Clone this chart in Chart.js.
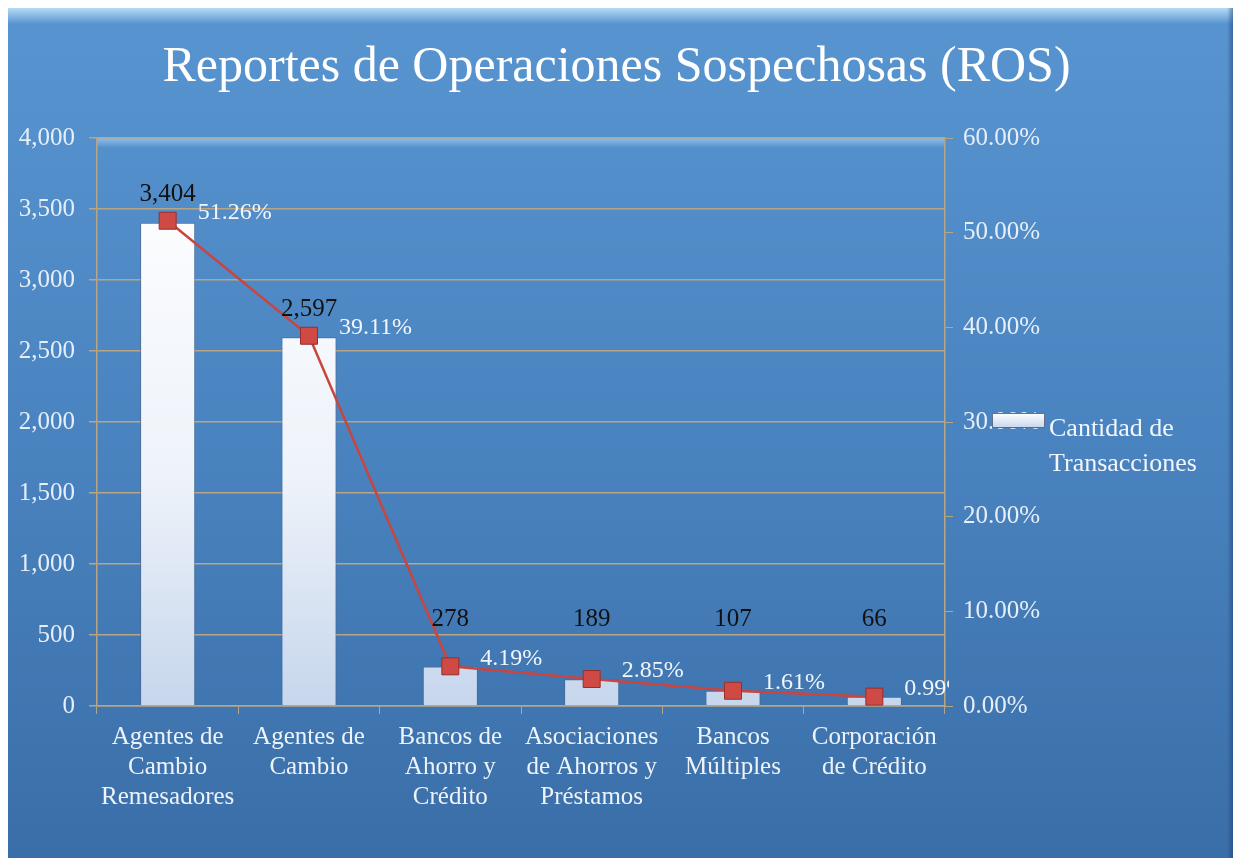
<!DOCTYPE html>
<html>
<head>
<meta charset="utf-8">
<script src="https://cdn.jsdelivr.net/npm/chart.js@4"></script>
<style>
    html, body { margin: 0; padding: 0; background: #fff; }
    #wrap { width: 1233px; height: 858px; position: relative; }
</style>
</head>
<body>
<div id="wrap"><canvas id="ros-canvas"></canvas></div>
<script>
// Reportes de Operaciones Sospechosas (ROS)

const categories = [
    ['Agentes de', 'Cambio', 'Remesadores'],
    ['Agentes de', 'Cambio'],
    ['Bancos de', 'Ahorro y', 'Crédito'],
    ['Asociaciones', 'de Ahorros y', 'Préstamos'],
    ['Bancos', 'Múltiples'],
    ['Corporación', 'de Crédito']
];
const transacciones = [3404, 2597, 278, 189, 107, 66];
const porcentajes = [51.26, 39.11, 4.19, 2.85, 1.61, 0.99];
const porcentajeLabels = ['51.26%', '39.11%', '4.19%', '2.85%', '1.61%', '0.99%'];
const legendLines = ['Cantidad de', 'Transacciones'];

const serif = '"Liberation Serif", "DejaVu Serif", serif';

function barGradient(context) {
    const chart = context.chart;
    const area = chart.chartArea;
    if (!area) return '#ffffff';
    const g = chart.ctx.createLinearGradient(0, area.top, 0, area.bottom);
    g.addColorStop(0, '#ffffff');
    g.addColorStop(0.6, '#eef3fa');
    g.addColorStop(1, '#c6d6ec');
    return g;
}

// frame + plot background
const backdrop = {
    id: 'backdrop',
    beforeDraw(chart) {
        const ctx = chart.ctx;
        const w = chart.width, h = chart.height;
        ctx.save();
        ctx.fillStyle = '#ffffff';
        ctx.fillRect(0, 0, w, h);
        const g = ctx.createLinearGradient(0, 8, 0, h);
        g.addColorStop(0, '#5895d0');
        g.addColorStop(0.5, '#4a84c0');
        g.addColorStop(1, '#3a6ea8');
        ctx.fillStyle = g;
        ctx.fillRect(8, 8, w - 8, h - 8);
        // top bevel highlight
        const t = ctx.createLinearGradient(0, 8, 0, 24);
        t.addColorStop(0, 'rgba(190,225,250,0.9)');
        t.addColorStop(1, 'rgba(190,225,250,0)');
        ctx.fillStyle = t;
        ctx.fillRect(8, 8, w - 8, 16);
        // right bevel shade
        const r = ctx.createLinearGradient(w - 6, 0, w, 0);
        r.addColorStop(0, 'rgba(30,60,110,0)');
        r.addColorStop(1, 'rgba(30,60,110,0.5)');
        ctx.fillStyle = r;
        ctx.fillRect(w - 6, 8, 6, h - 8);
        // plot area top highlight
        const a = chart.chartArea;
        const p = ctx.createLinearGradient(0, a.top, 0, a.top + 10);
        p.addColorStop(0, 'rgba(170,210,245,0.7)');
        p.addColorStop(1, 'rgba(170,210,245,0)');
        ctx.fillStyle = p;
        ctx.fillRect(a.left, a.top, a.right - a.left, 10);
        ctx.restore();
    }
};

// data labels and legend
const labelsPlugin = {
    id: 'labelsPlugin',
    afterDatasetsDraw(chart) {
        const ctx = chart.ctx;
        const area = chart.chartArea;
        const yScale = chart.scales.y;
        ctx.save();
        ctx.textBaseline = 'middle';

        // bar values
        ctx.font = '25px ' + serif;
        ctx.fillStyle = '#111111';
        ctx.textAlign = 'center';
        chart.getDatasetMeta(0).data.forEach((bar, i) => {
            const y = Math.min(bar.y - 28, yScale.getPixelForValue(610));
            ctx.fillText(transacciones[i].toLocaleString('en-US'), bar.x, y);
        });

        // percent labels
        ctx.beginPath();
        ctx.rect(area.left, 0, area.right - area.left + 4, chart.height);
        ctx.clip();
        ctx.font = '24px ' + serif;
        ctx.fillStyle = '#f2f6fb';
        ctx.textAlign = 'left';
        chart.getDatasetMeta(1).data.forEach((pt, i) => {
            ctx.fillText(porcentajeLabels[i], pt.x + 30, pt.y - 8);
        });
        ctx.restore();

        // legend
        ctx.save();
        const lx = 992, ly = 413;
        const g = ctx.createLinearGradient(0, ly, 0, ly + 15);
        g.addColorStop(0, '#ffffff');
        g.addColorStop(1, '#c6d6ec');
        ctx.fillStyle = g;
        ctx.fillRect(lx, ly, 53, 15);
        ctx.strokeStyle = 'rgba(60,80,110,0.8)';
        ctx.lineWidth = 1;
        ctx.strokeRect(lx + 0.5, ly + 0.5, 52, 14);
        ctx.font = '26px ' + serif;
        ctx.fillStyle = '#f2f6fb';
        ctx.textAlign = 'left';
        ctx.textBaseline = 'middle';
        legendLines.forEach((line, i) => {
            ctx.fillText(line, 1049, 429 + i * 35);
        });
        ctx.restore();
    }
};

const gridColor = '#b7a585';

new Chart(document.getElementById('ros-canvas').getContext('2d'), {
    data: {
        labels: categories,
        datasets: [
            {
                type: 'bar',
                label: 'Cantidad de Transacciones',
                data: transacciones,
                yAxisID: 'y',
                backgroundColor: barGradient,
                borderColor: 'rgba(80,100,135,0.7)',
                borderWidth: 1,
                barPercentage: 0.39,
                categoryPercentage: 1,
                order: 1
            },
            {
                type: 'line',
                label: 'Porcentaje',
                data: porcentajes,
                yAxisID: 'y1',
                borderColor: '#c9453f',
                borderWidth: 2.5,
                pointStyle: 'rect',
                pointRadius: 12,
                pointBackgroundColor: '#cf4a44',
                pointBorderColor: '#9a2e2a',
                pointBorderWidth: 1,
                tension: 0,
                order: 0
            }
        ]
    },
    options: {
        responsive: true,
        maintainAspectRatio: false,
        animation: false,
        layout: { padding: 0 },
        plugins: {
            legend: { display: false },
            tooltip: { enabled: false },
            title: {
                display: true,
                text: 'Reportes de Operaciones Sospechosas (ROS)',
                color: '#ffffff',
                font: { family: serif, size: 50, weight: 'normal' },
                padding: { top: 38, bottom: 40 }
            }
        },
        scales: {
            x: {
                grid: {
                    offset: true,
                    drawOnChartArea: false,
                    drawTicks: true,
                    tickLength: 8,
                    color: gridColor
                },
                border: { display: true, color: gridColor, width: 1.5 },
                ticks: {
                    color: '#eef3f9',
                    font: { family: serif, size: 25, lineHeight: 1.2 },
                    padding: 8,
                    maxRotation: 0,
                    autoSkip: false
                },
                afterFit: scale => { scale.height = 152; }
            },
            y: {
                position: 'left',
                min: 0,
                max: 4000,
                ticks: {
                    stepSize: 500,
                    color: '#e6eef8',
                    font: { family: serif, size: 25 },
                    padding: 14,
                    callback: v => v.toLocaleString('en-US')
                },
                grid: { color: gridColor, tickLength: 8, lineWidth: 1.5 },
                border: { display: true, color: gridColor, width: 1.5 },
                afterFit: scale => { scale.width = 97; }
            },
            y1: {
                position: 'right',
                min: 0,
                max: 60,
                ticks: {
                    stepSize: 10,
                    color: '#e6eef8',
                    font: { family: serif, size: 25 },
                    padding: 10,
                    callback: v => v.toFixed(2) + '%'
                },
                grid: { drawOnChartArea: false, color: gridColor, tickLength: 8 },
                border: { display: true, color: gridColor, width: 1.5 },
                afterFit: scale => { scale.width = 288; }
            }
        }
    },
    plugins: [backdrop, labelsPlugin]
});
</script>
</body>
</html>
